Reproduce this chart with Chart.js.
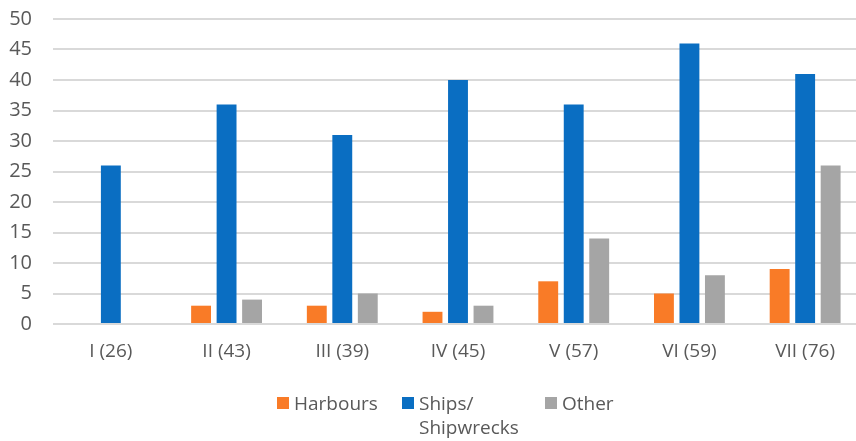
<!DOCTYPE html>
<html>
<head>
<meta charset="utf-8">
<script src="https://cdn.jsdelivr.net/npm/chart.js@4/dist/chart.umd.min.js"></script>
<style>
  html, body { margin: 0; padding: 0; background: #fff; }
  #wrap { position: relative; width: 856px; height: 441px; overflow: hidden; }
  #chart { position: absolute; left: 0; top: 0; }
  #legend { position: absolute; left: 0; top: 0; width: 856px; height: 441px; pointer-events: none;
            font-family: "Open Sans", sans-serif; font-size: 19px; color: #595959; }
  .item { position: absolute; line-height: 24px; }
  .box { position: absolute; width: 12px; height: 12px; }
</style>
</head>
<body>
<div id="wrap">
  <!-- plot runs a little past the right edge, so the canvas is wider than the frame -->
  <canvas id="chart" width="863" height="441"></canvas>
  <div id="legend"></div>
</div>
<script>
const categories = ["I (26)", "II (43)", "III (39)", "IV (45)", "V (57)", "VI (59)", "VII (76)"];
const harbours = [0, 3, 3, 2, 7, 5, 9];
const ships = [26, 36, 31, 40, 36, 46, 41];
const other = [0, 4, 5, 3, 14, 8, 26];
const yTicks = [0, 5, 10, 15, 20, 25, 30, 35, 40, 45, 50];

const colors = { harbours: "#F97B27", ships: "#0A6EC2", other: "#A5A5A5" };
const textColor = "#595959";
const font = { family: "'Open Sans', sans-serif", size: 19 };

const ctx = document.getElementById("chart").getContext("2d");

window.barChart = new Chart(ctx, {
    type: "bar",
    data: {
        labels: categories,
        datasets: [
            { label: "Harbours", data: harbours, backgroundColor: colors.harbours },
            { label: "Ships/Shipwrecks", data: ships, backgroundColor: colors.ships },
            { label: "Other", data: other, backgroundColor: colors.other }
        ]
    },
    options: {
        responsive: false,
        animation: false,
        categoryPercentage: 0.661,
        barPercentage: 0.78,
        layout: { padding: { top: 19, right: 0, left: 0, bottom: 0 } },
        plugins: {
            legend: { display: false },
            tooltip: { enabled: false }
        },
        scales: {
            x: {
                grid: { display: false, drawTicks: false },
                border: { display: false },
                ticks: { color: textColor, font: font, padding: 16, maxRotation: 0 },
                afterFit: (scale) => { scale.height = 117; }
            },
            y: {
                min: 0,
                max: 50,
                afterBuildTicks: (scale) => { scale.ticks = yTicks.map(v => ({ value: v })); },
                grid: { color: "#D9D9D9", lineWidth: 2, drawTicks: false },
                border: { display: false },
                ticks: { color: textColor, font: { family: font.family, size: 20 }, padding: 21 },
                afterFit: (scale) => {
                    scale.width = 53;
                    scale.paddingTop = 0;
                    scale.paddingBottom = 0;
                }
            }
        }
    }
});

// legend below the axis, "Ships/Shipwrecks" wraps onto two lines
const legendItems = [
    { color: colors.harbours, lines: ["Harbours"], x: 277 },
    { color: colors.ships, lines: ["Ships/", "Shipwrecks"], x: 402 },
    { color: colors.other, lines: ["Other"], x: 545 }
];
const legend = document.getElementById("legend");
legendItems.forEach(it => {
    const box = document.createElement("div");
    box.className = "box";
    box.style.left = it.x + "px";
    box.style.top = "397px";
    box.style.background = it.color;
    legend.appendChild(box);
    const txt = document.createElement("div");
    txt.className = "item";
    txt.style.left = (it.x + 17) + "px";
    txt.style.top = "391px";
    txt.innerHTML = it.lines.join("<br>");
    legend.appendChild(txt);
});
</script>
</body>
</html>
